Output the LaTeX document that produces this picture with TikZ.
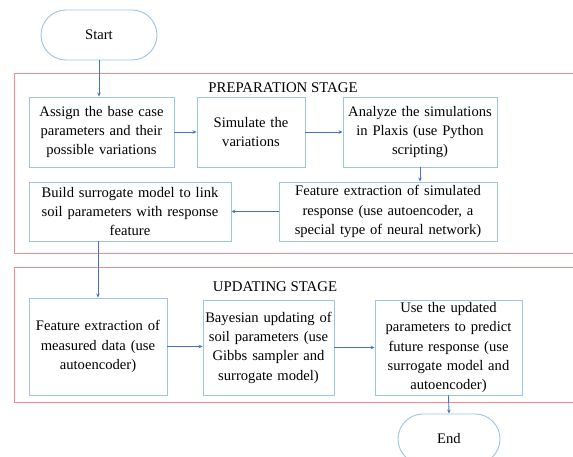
\documentclass[tikz,border=0pt]{standalone}
\usepackage{fontspec}
\setmainfont{Liberation Serif}
\usetikzlibrary{arrows.meta,shapes.misc}
\definecolor{boxblue}{HTML}{9DC3E6}
\definecolor{arrowblue}{HTML}{4472C4}
\definecolor{stagered}{HTML}{F28B8B}
\tikzset{
  procbox/.style={draw=boxblue, line width=0.9pt, inner sep=0pt, align=center,
    font=\fontsize{14.6}{19.3}\selectfont},
  termbox/.style={draw=boxblue, line width=0.9pt, rounded rectangle, inner sep=0pt,
    font=\fontsize{14.6}{19.3}\selectfont},
  flow/.style={draw=arrowblue, line width=0.9pt, -{Stealth[length=4pt,width=3.5pt]}},
  stage/.style={draw=stagered, line width=0.9pt},
  stagetitle/.style={font=\fontsize{14.8}{17}\selectfont, inner sep=0pt}
}
\begin{document}
\begin{tikzpicture}[x=1pt,y=1pt]
\useasboundingbox (0,0) rectangle (573,-457);
\clip (0,0) rectangle (573,-457);
% stage frames
\draw[stage] (14,-73) rectangle (580,-253);
\draw[stage] (14,-267) rectangle (580,-402);
\node[stagetitle] (prep) at (283,-88) {PREPARATION STAGE};
\node[stagetitle] (upd) at (275,-287) {UPDATING STAGE};
% terminals
\node[termbox, minimum width=116pt, minimum height=50pt] (start) at (99,-35) {Start};
\node[termbox, minimum width=102pt, minimum height=50pt] (end) at (449,-439) {End};
% preparation
\node[procbox, minimum width=145pt, minimum height=70pt, text width=145pt] (A) at (101.5,-132)
  {Assign the base case\\parameters and their\\possible variations};
\node[procbox, minimum width=108pt, minimum height=70pt, text width=108pt] (B) at (251,-132)
  {Simulate the\\variations};
\node[procbox, minimum width=154pt, minimum height=70pt, text width=154pt] (C) at (420,-132)
  {Analyze the simulations\\in Plaxis (use Python\\scripting)};
\node[procbox, minimum width=202pt, minimum height=59pt, text width=202pt] (D) at (130,-211.5)
  {Build surrogate model to link\\soil parameters with response\\feature};
\node[procbox, minimum width=218pt, minimum height=59pt, text width=218pt] (E) at (388,-211.5)
  {Feature extraction of simulated\\response (use autoencoder, a\\special type of neural network)};
% updating
\node[procbox, minimum width=138pt, minimum height=97pt, text width=138pt] (F) at (98,-346.5)
  {Feature extraction of\\measured data (use\\autoencoder)};
\node[procbox, minimum width=131pt, minimum height=95pt, text width=131pt] (G) at (268.5,-347.5)
  {Bayesian updating of\\soil parameters (use\\Gibbs sampler and\\surrogate model)};
\node[procbox, minimum width=147pt, minimum height=95pt, text width=147pt] (H) at (448.5,-347.5)
  {Use the updated\\parameters to predict\\future response (use\\surrogate model and\\autoencoder)};
% connectors
\draw[flow] (start.south) -- (start.south |- A.north);
\draw[flow] (A.east) -- (B.west);
\draw[flow] (B.east) -- (C.west);
\draw[flow] (C.south) -- (C.south |- E.north);
\draw[flow] (E.west) -- (D.east);
\draw[flow] (F.north |- D.south) -- (F.north);
\draw[flow] (F.east) -- (F.east -| G.west);
\draw[flow] (G.east) -- (H.west);
\draw[flow] (H.south) -- (end.north);
\end{tikzpicture}
\end{document}
